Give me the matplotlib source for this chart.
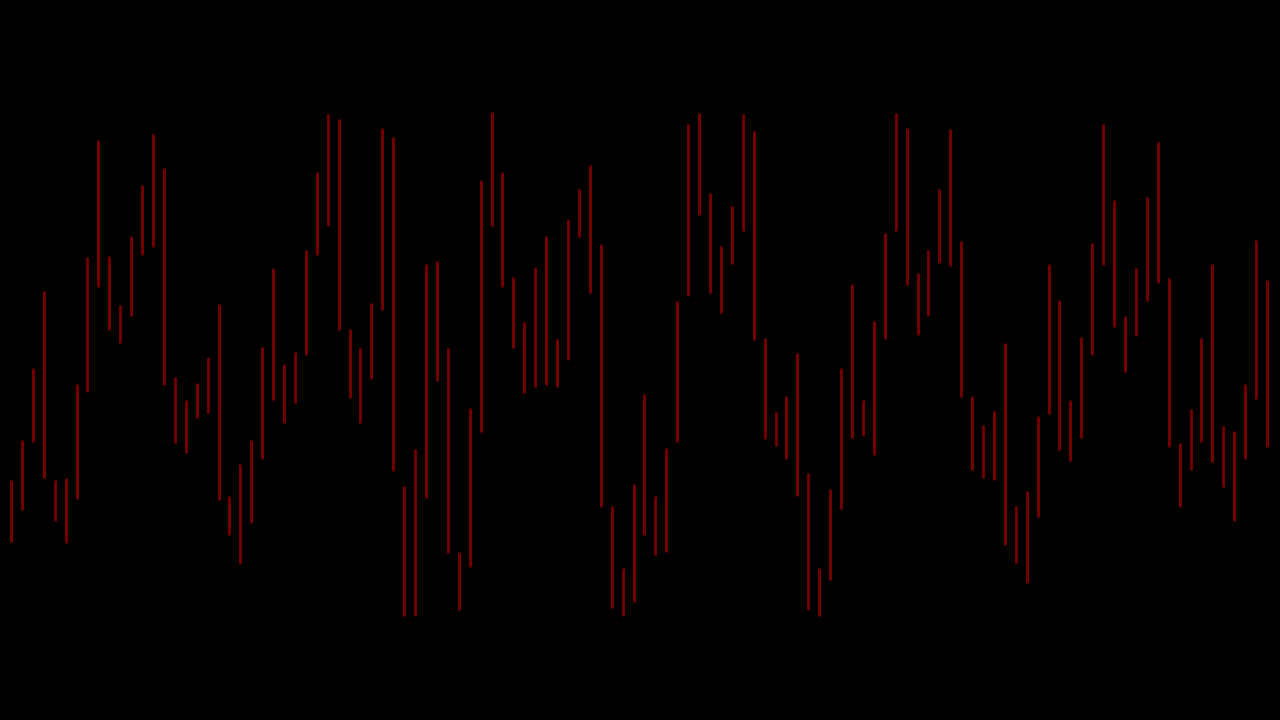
import matplotlib
matplotlib.use("Agg")
import matplotlib.pyplot as plt
import numpy as np

# Bar top / bottom positions (screen y, pixels from top)
tops = [480, 440, 368, 291, 480, 478, 384, 257, 140, 256,
        305, 236, 185, 134, 168, 377, 400, 383, 357, 304,
        496, 464, 440, 347, 268, 364, 352, 250, 172, 114,
        119, 329, 348, 303, 128, 137, 486, 449, 264, 261,
        348, 552, 408, 180, 112, 172, 277, 322, 267, 236,
        339, 219, 189, 165, 244, 506, 568, 484, 394, 496,
        448, 301, 124, 113, 193, 246, 206, 114, 131, 338,
        412, 396, 353, 473, 568, 489, 368, 284, 400, 321,
        233, 113, 128, 273, 250, 189, 129, 241, 396, 425,
        411, 343, 506, 491, 416, 264, 300, 400, 337, 243,
        124, 200, 316, 268, 197, 142, 278, 443, 409, 338,
        264, 426, 431, 384, 240, 280]
bottoms = [542, 510, 442, 478, 521, 543, 499, 392, 287, 330,
           343, 316, 255, 247, 385, 443, 453, 418, 413, 500,
           535, 564, 523, 459, 400, 423, 403, 355, 255, 226,
           330, 398, 423, 379, 310, 471, 616, 616, 498, 381,
           553, 610, 567, 432, 226, 287, 348, 393, 387, 385,
           387, 360, 237, 293, 507, 608, 616, 602, 535, 555,
           552, 442, 296, 215, 293, 313, 264, 231, 340, 439,
           446, 459, 496, 610, 616, 580, 509, 438, 436, 455,
           339, 231, 285, 335, 316, 263, 266, 397, 470, 478,
           480, 545, 563, 583, 517, 414, 450, 461, 438, 355,
           265, 327, 372, 336, 301, 283, 447, 507, 470, 442,
           462, 487, 521, 459, 399, 447]

H = 720
highs = [H - t for t in tops]
lows = [H - b for b in bottoms]
idx = np.arange(len(highs))

fig = plt.figure(figsize=(12.8, 7.2), dpi=100, facecolor="black")
ax = fig.add_axes([0, 0, 1, 1])
ax.set_facecolor("black")
step = (1267 - 11) / (len(highs) - 1)
ax.set_xlim(-11 / step, (1280 - 11) / step)
ax.set_ylim(0, H)
ax.vlines(idx, lows, highs, color="#6e0000", linewidth=2.2)
ax.axis("off")
fig.savefig("out.png", dpi=100, facecolor="black")
